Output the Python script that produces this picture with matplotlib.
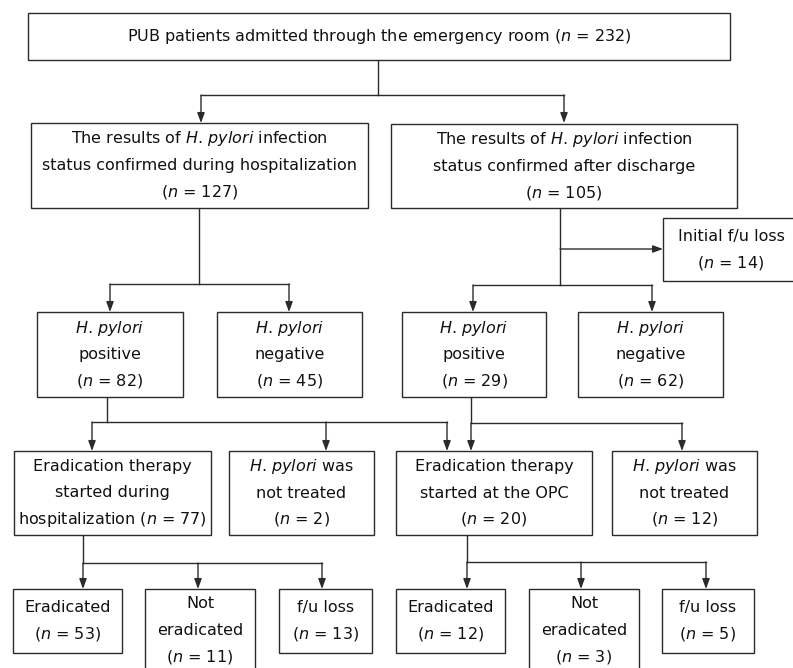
import matplotlib
matplotlib.use('Agg')
import matplotlib.pyplot as plt
from matplotlib.patches import Rectangle

plt.rcParams['font.family'] = 'DejaVu Sans'
plt.rcParams['mathtext.fontset'] = 'custom'
plt.rcParams['mathtext.it'] = 'DejaVu Sans:italic'
plt.rcParams['mathtext.rm'] = 'DejaVu Sans'

# text of each box ('#hp' -> italic H. pylori, '#n' -> (n = count))
box_text = [
    ['PUB patients admitted through the emergency room #n'],
    ['The results of #hp infection', 'status confirmed during hospitalization', '#n'],
    ['The results of #hp infection', 'status confirmed after discharge', '#n'],
    ['Initial f/u loss', '#n'],
    ['#hp', 'positive', '#n'],
    ['#hp', 'negative', '#n'],
    ['#hp', 'positive', '#n'],
    ['#hp', 'negative', '#n'],
    ['Eradication therapy', 'started during', 'hospitalization #n'],
    ['#hp was', 'not treated', '#n'],
    ['Eradication therapy', 'started at the OPC', '#n'],
    ['#hp was', 'not treated', '#n'],
    ['Eradicated', '#n'],
    ['Not', 'eradicated', '#n'],
    ['f/u loss', '#n'],
    ['Eradicated', '#n'],
    ['Not', 'eradicated', '#n'],
    ['f/u loss', '#n'],
]
box_n = [232, 127, 105, 14, 82, 45, 29, 62, 77, 2, 20, 12, 53, 11, 13, 12, 3, 5]

# layout in pixels: x0, x1, y0, y1 (y going down); some boxes run past the edge
box_pos = [
    (28, 730, 13, 60),
    (31, 368, 123, 208), (391, 737, 124, 208),
    (663, 799, 218, 281),
    (37, 183, 312, 397), (217, 362, 312, 397),
    (402, 546, 312, 397), (578, 723, 312, 397),
    (14, 211, 451, 535), (229, 374, 451, 535),
    (396, 592, 451, 535), (612, 757, 451, 535),
    (13, 122, 589, 653), (145, 255, 589, 672), (279, 372, 589, 653),
    (396, 505, 589, 653), (529, 639, 589, 672), (662, 754, 589, 653),
]

# connectors: source x, source y, bar y, target xs, target y
links = [
    (378, 60, 95, [201, 564], 123),
    (199, 208, 284, [110, 289], 312),
    (560, 208, 285, [473, 652], 312),
    (107, 397, 422, [92, 326, 447], 451),
    (471, 397, 423, [471, 682], 451),
    (83, 535, 563, [83, 198, 322], 589),
    (467, 535, 562, [467, 581, 706], 589),
]

LC = '#2b2b2b'
FS = 11.5
LSP = 26.5

fig = plt.figure(figsize=(7.93, 6.68), dpi=100)
ax = fig.add_axes([0, 0, 1, 1])
ax.set_xlim(0, 793)
ax.set_ylim(668, 0)
ax.axis('off')


def fmt(line, n):
    # the dot stays outside mathtext, which would pad punctuation
    line = line.replace('#hp', r'$\mathit{H}$. $\mathit{pylori}$')
    line = line.replace('#n', r'($\mathit{n}$ = ' + str(n) + ')')
    return line


def arrow(x0, y0, x1, y1):
    ax.annotate('', xy=(x1, y1), xytext=(x0, y0),
                arrowprops=dict(arrowstyle='-|>,head_length=0.6,head_width=0.22',
                                color=LC, lw=1.0, shrinkA=0, shrinkB=0,
                                mutation_scale=10))


for (x0, x1, y0, y1), lines, n in zip(box_pos, box_text, box_n):
    ax.add_patch(Rectangle((x0, y0), x1 - x0, y1 - y0, facecolor='white',
                           edgecolor=LC, lw=1.0, zorder=2))
    yc = (y0 + y1) / 2
    k = len(lines)
    for i, line in enumerate(lines):
        y = yc + (i - (k - 1) / 2) * LSP
        ax.text((x0 + x1) / 2, y, fmt(line, n), ha='center', va='center',
                fontsize=FS, color='#111111', zorder=3)

for sx, sy, by, txs, ty in links:
    ax.plot([sx, sx], [sy, by], color=LC, lw=1.0, zorder=1)
    ax.plot([min(txs + [sx]), max(txs + [sx])], [by, by], color=LC, lw=1.0, zorder=1)
    for tx in txs:
        arrow(tx, by, tx, ty)

# side branch to the initial follow-up loss box
arrow(560, 249, 663, 249)

fig.savefig('out.png', dpi=100)
